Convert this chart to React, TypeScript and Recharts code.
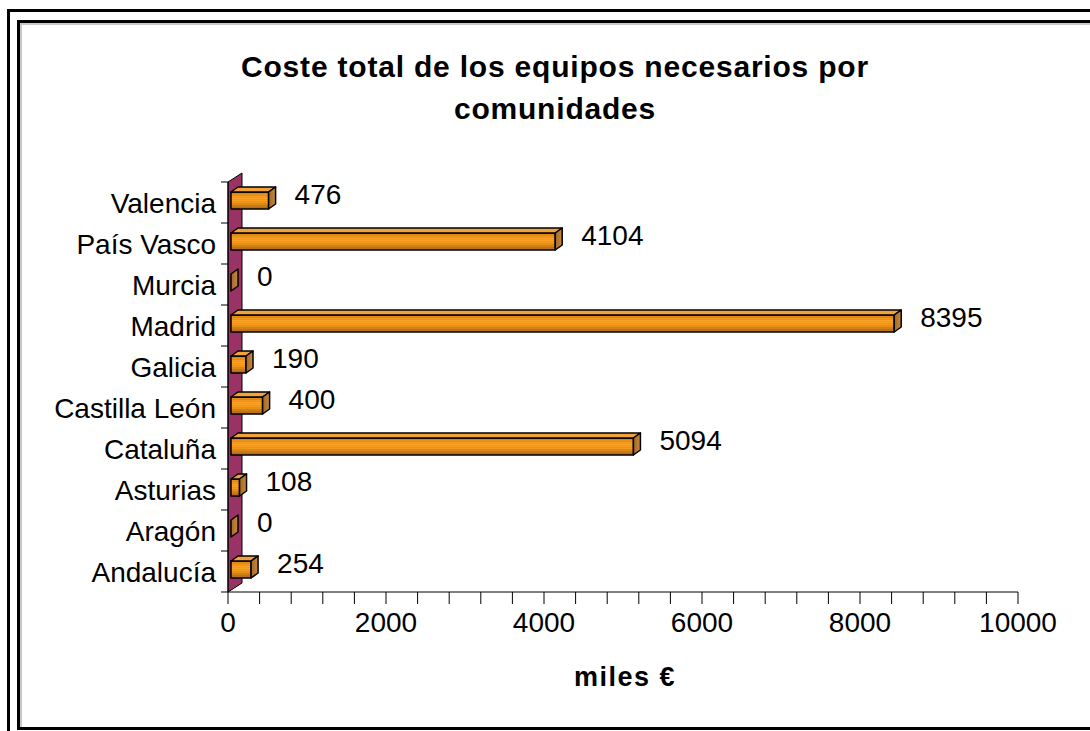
import React from 'react';
import { BarChart, Bar, XAxis, YAxis, ReferenceArea, LabelList } from 'recharts';

// values in thousands of euros
const regions = ['Valencia', 'País Vasco', 'Murcia', 'Madrid', 'Galicia', 'Castilla León', 'Cataluña', 'Asturias', 'Aragón', 'Andalucía'];
const costs = [476, 4104, 0, 8395, 190, 400, 5094, 108, 0, 254];
const xTicks = [0, 400, 800, 1200, 1600, 2000, 2400, 2800, 3200, 3600, 4000, 4400, 4800, 5200, 5600, 6000, 6400, 6800, 7200, 7600, 8000, 8400, 8800, 9200, 9600, 10000];
const labelledTicks = [0, 2000, 4000, 6000, 8000, 10000];

const data = regions.map((region, i) => ({ region, cost: costs[i] }));

const FONT = '"Liberation Sans", Arial, sans-serif';
const DX = 7;
const DY = -5;

const Bar3D = (props: any) => {
  const { x, y, width, height } = props;
  const left = x + 3;
  const top = y - 2;
  const w = Math.max(width, 0);
  const right = left + w;
  return (
    <g stroke="#000" strokeWidth={1.5} strokeLinejoin="round">
      {w > 0 && <rect x={left} y={top} width={w} height={height} fill="url(#frontGrad)" />}
      {w > 0 && <rect x={left} y={top} width={w} height={height} fill="url(#stripes)" stroke="none" />}
      {w > 0 && (
        <polygon
          points={`${left},${top} ${left + DX},${top + DY} ${right + DX},${top + DY} ${right},${top}`}
          fill="#f2a23a"
        />
      )}
      <polygon
        points={`${right},${top} ${right + DX},${top + DY} ${right + DX},${top + height + DY} ${right},${top + height}`}
        fill="url(#sideGrad)"
      />
    </g>
  );
};

const Wall = (props: any) => {
  const { x, y, height } = props;
  const b = y + height;
  return (
    <polygon
      points={`${x},${y} ${x + 14},${y - 9} ${x + 14},${b - 9} ${x},${b}`}
      fill="#993366"
      stroke="#000"
      strokeWidth={1}
    />
  );
};

const XTick = (props: any) => {
  const { x, y, payload } = props;
  const v = payload.value;
  const axisY = y - 2;
  return (
    <g>
      <line x1={x} x2={x} y1={axisY - 6} y2={axisY + 6} stroke="#000" strokeWidth={1} />
      {labelledTicks.includes(v) && (
        <text x={x} y={axisY + 34} textAnchor="middle" fontSize={28} fontFamily={FONT} fill="#000">
          {v}
        </text>
      )}
    </g>
  );
};

const YTick = (props: any) => {
  const { x, y, payload, index } = props;
  const half = 20.5;
  return (
    <g>
      <line x1={x + 1} x2={x + 8} y1={y - half} y2={y - half} stroke="#000" strokeWidth={1} />
      {index === regions.length - 1 && (
        <line x1={x + 1} x2={x + 8} y1={y + half} y2={y + half} stroke="#000" strokeWidth={1} />
      )}
      <text x={x - 4} y={y + 10} textAnchor="end" fontSize={28} fontFamily={FONT} fill="#000">
        {payload.value}
      </text>
    </g>
  );
};

const ValueLabel = (props: any) => {
  const { x, y, width, height, value } = props;
  return (
    <text x={x + width + 29} y={y + height / 2 + 1} fontSize={28} fontFamily={FONT} fill="#000">
      {value}
    </text>
  );
};

export default function App() {
  return (
    <div style={{ position: 'relative', width: 1090, height: 731, overflow: 'hidden', background: '#fff' }}>
      <style>{'html,body{margin:0;overflow:hidden}'}</style>
      <div style={{ position: 'absolute', left: 7, top: 9, width: 1200, height: 800, border: '3px solid #000' }} />
      <div
        style={{
          position: 'absolute',
          left: 17,
          top: 20,
          width: 1200,
          height: 704,
          border: '3px solid #000',
          boxShadow: 'inset 2px 2px 0 #c8c8c8',
        }}
      />
      <div
        style={{
          position: 'absolute',
          left: 0,
          width: 1110,
          top: 46,
          textAlign: 'center',
          fontFamily: FONT,
          fontWeight: 'bold',
          fontSize: 30,
          letterSpacing: 0.8,
          lineHeight: '42px',
        }}
      >
        Coste total de los equipos necesarios por
        <br />
        comunidades
      </div>
      <div
        style={{
          position: 'absolute',
          left: 525,
          width: 200,
          top: 662,
          textAlign: 'center',
          fontFamily: FONT,
          fontWeight: 'bold',
          fontSize: 27,
          letterSpacing: 1.5,
        }}
      >
        miles €
      </div>
      <div style={{ position: 'absolute', left: 0, top: 0 }}>
        <BarChart
          width={1090}
          height={731}
          data={data}
          layout="vertical"
          margin={{ top: 182, right: 72, bottom: 79, left: 28 }}
          barSize={17}
        >
          <defs>
            <linearGradient id="frontGrad" x1="0" y1="0" x2="0" y2="1">
              <stop offset="0%" stopColor="#d98410" />
              <stop offset="35%" stopColor="#ffa52a" />
              <stop offset="60%" stopColor="#f59a1a" />
              <stop offset="100%" stopColor="#a8661a" />
            </linearGradient>
            <pattern id="stripes" width="4" height="2" patternUnits="userSpaceOnUse">
              <rect x="0" y="1" width="4" height="1" fill="#7a4a10" fillOpacity={0.12} />
            </pattern>
            <linearGradient id="sideGrad" x1="0" y1="0" x2="1" y2="0">
              <stop offset="0%" stopColor="#a0682a" />
              <stop offset="100%" stopColor="#c88a3a" />
            </linearGradient>
          </defs>
          <XAxis
            type="number"
            domain={[0, 10000]}
            ticks={xTicks}
            interval={0}
            tickLine={false}
            tick={<XTick />}
            stroke="#000"
            height={60}
          />
          <YAxis
            type="category"
            dataKey="region"
            width={200}
            tickLine={false}
            axisLine={{ stroke: '#000' }}
            tick={<YTick />}
            interval={0}
          />
          <ReferenceArea x1={0} x2={10000} shape={<Wall />} fillOpacity={1} />
          <Bar dataKey="cost" shape={<Bar3D />} isAnimationActive={false}>
            <LabelList dataKey="cost" content={<ValueLabel />} />
          </Bar>
        </BarChart>
      </div>
    </div>
  );
}
